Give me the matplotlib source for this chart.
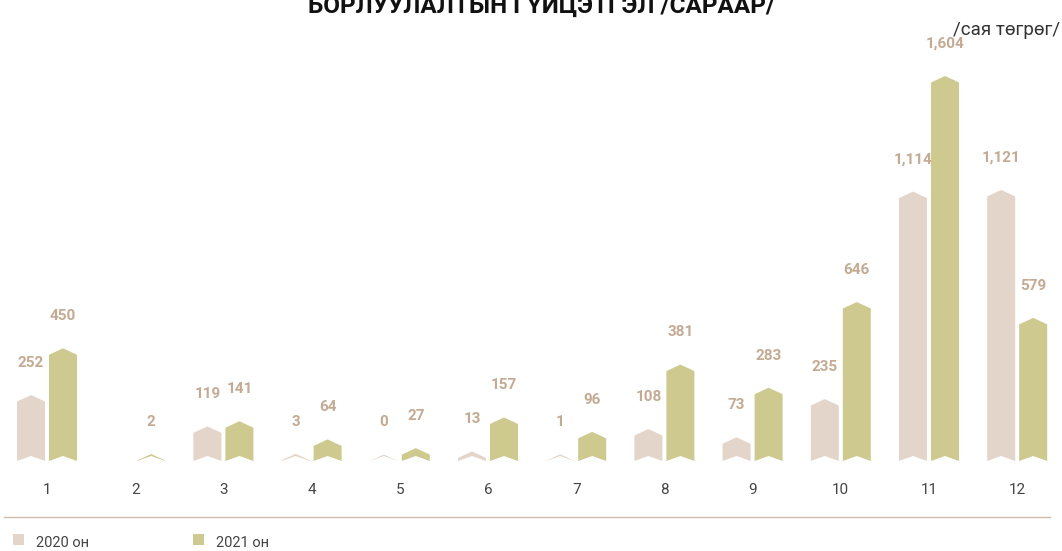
import matplotlib
matplotlib.use("Agg")
import matplotlib.pyplot as plt
from matplotlib.patches import Polygon, Rectangle
from matplotlib.lines import Line2D

months = ["1", "2", "3", "4", "5", "6", "7", "8", "9", "10", "11", "12"]
sales_2020 = [252, None, 119, 3, 0, 13, 1, 108, 73, 235, 1114, 1121]
sales_2021 = [450, 2, 141, 64, 27, 157, 96, 381, 283, 646, 1604, 579]
series_names = ["2020 он", "2021 он"]
title = "БОРЛУУЛАЛТЫН ГҮЙЦЭТГЭЛ /САРААР/"
unit_label = "/сая төгрөг/"

c2020 = "#E4D5CA"
c2021 = "#CEC98E"
c_label = "#C4AA92"
c_text = "#444444"

W, H = 1062, 551
plt.rcParams["font.family"] = ["Roboto", "DejaVu Sans"]
fig = plt.figure(figsize=(W / 100, H / 100), dpi=100)

base_px = 90           # baseline distance from the bottom edge, px
px_per_unit = 0.236    # vertical scale
ax = fig.add_axes([0, base_px / H, 1, 1 - base_px / H])
ax.set_ylim(0, (H - base_px) / px_per_unit)
step_px = 88.2
first_px = 47
ax.set_xlim(1 - first_px / step_px, 1 + (W - first_px) / step_px)
ax.axis("off")

bar_w = 28 / step_px
offset = 16 / step_px
peak = 6.5 / px_per_unit   # height of the pointed top
notch = 5.0 / px_per_unit  # depth of the bottom notch


def chevron_bar(xc, v, color):
    x0, x1 = xc - bar_w / 2, xc + bar_w / 2
    pts = [(x0, 0), (xc, notch), (x1, 0), (x1, v), (xc, v + peak), (x0, v)]
    ax.add_patch(Polygon(pts, closed=True, facecolor=color, edgecolor="none"))


for i, (a, b) in enumerate(zip(sales_2020, sales_2021)):
    m = i + 1
    for v, dx, col in ((a, -offset, c2020), (b, offset, c2021)):
        if v is None:
            continue
        chevron_bar(m + dx, v, col)
        ax.annotate(f"{v:,}", (m + dx, v), xytext=(0, 27.8), textcoords="offset points",
                    ha="center", va="center", fontsize=11, fontweight="bold",
                    color=c_label, annotation_clip=False)
    # month label
    ax.annotate(months[i], (m, 0), xytext=(0, -21), textcoords="offset points",
                ha="center", va="center", fontsize=11, color=c_text,
                annotation_clip=False)

# separator line
fig.add_artist(Line2D([4 / W, 1050 / W], [1 - 517 / H, 1 - 517 / H],
                      color="#CDBBAE", linewidth=1.0))

# legend
for k, (name, col) in enumerate(zip(series_names, (c2020, c2021))):
    x0 = 13 + k * 180
    fig.add_artist(Rectangle((x0 / W, 1 - 545 / H), 11 / W, 11 / H,
                             facecolor=col, edgecolor="none",
                             transform=fig.transFigure))
    fig.text((x0 + 23) / W, 1 - 543 / H, name, ha="left", va="center",
             fontsize=10.5, color=c_text)

fig.text(542 / W, 1 - 12.5 / H, title, ha="center", va="baseline",
         fontsize=17.5, fontweight="bold", color="#111111")
fig.text(1060 / W, 1 - 30 / H, unit_label, ha="right", va="center",
         fontsize=13.5, color="#333333")

fig.savefig("out.png", dpi=100)
